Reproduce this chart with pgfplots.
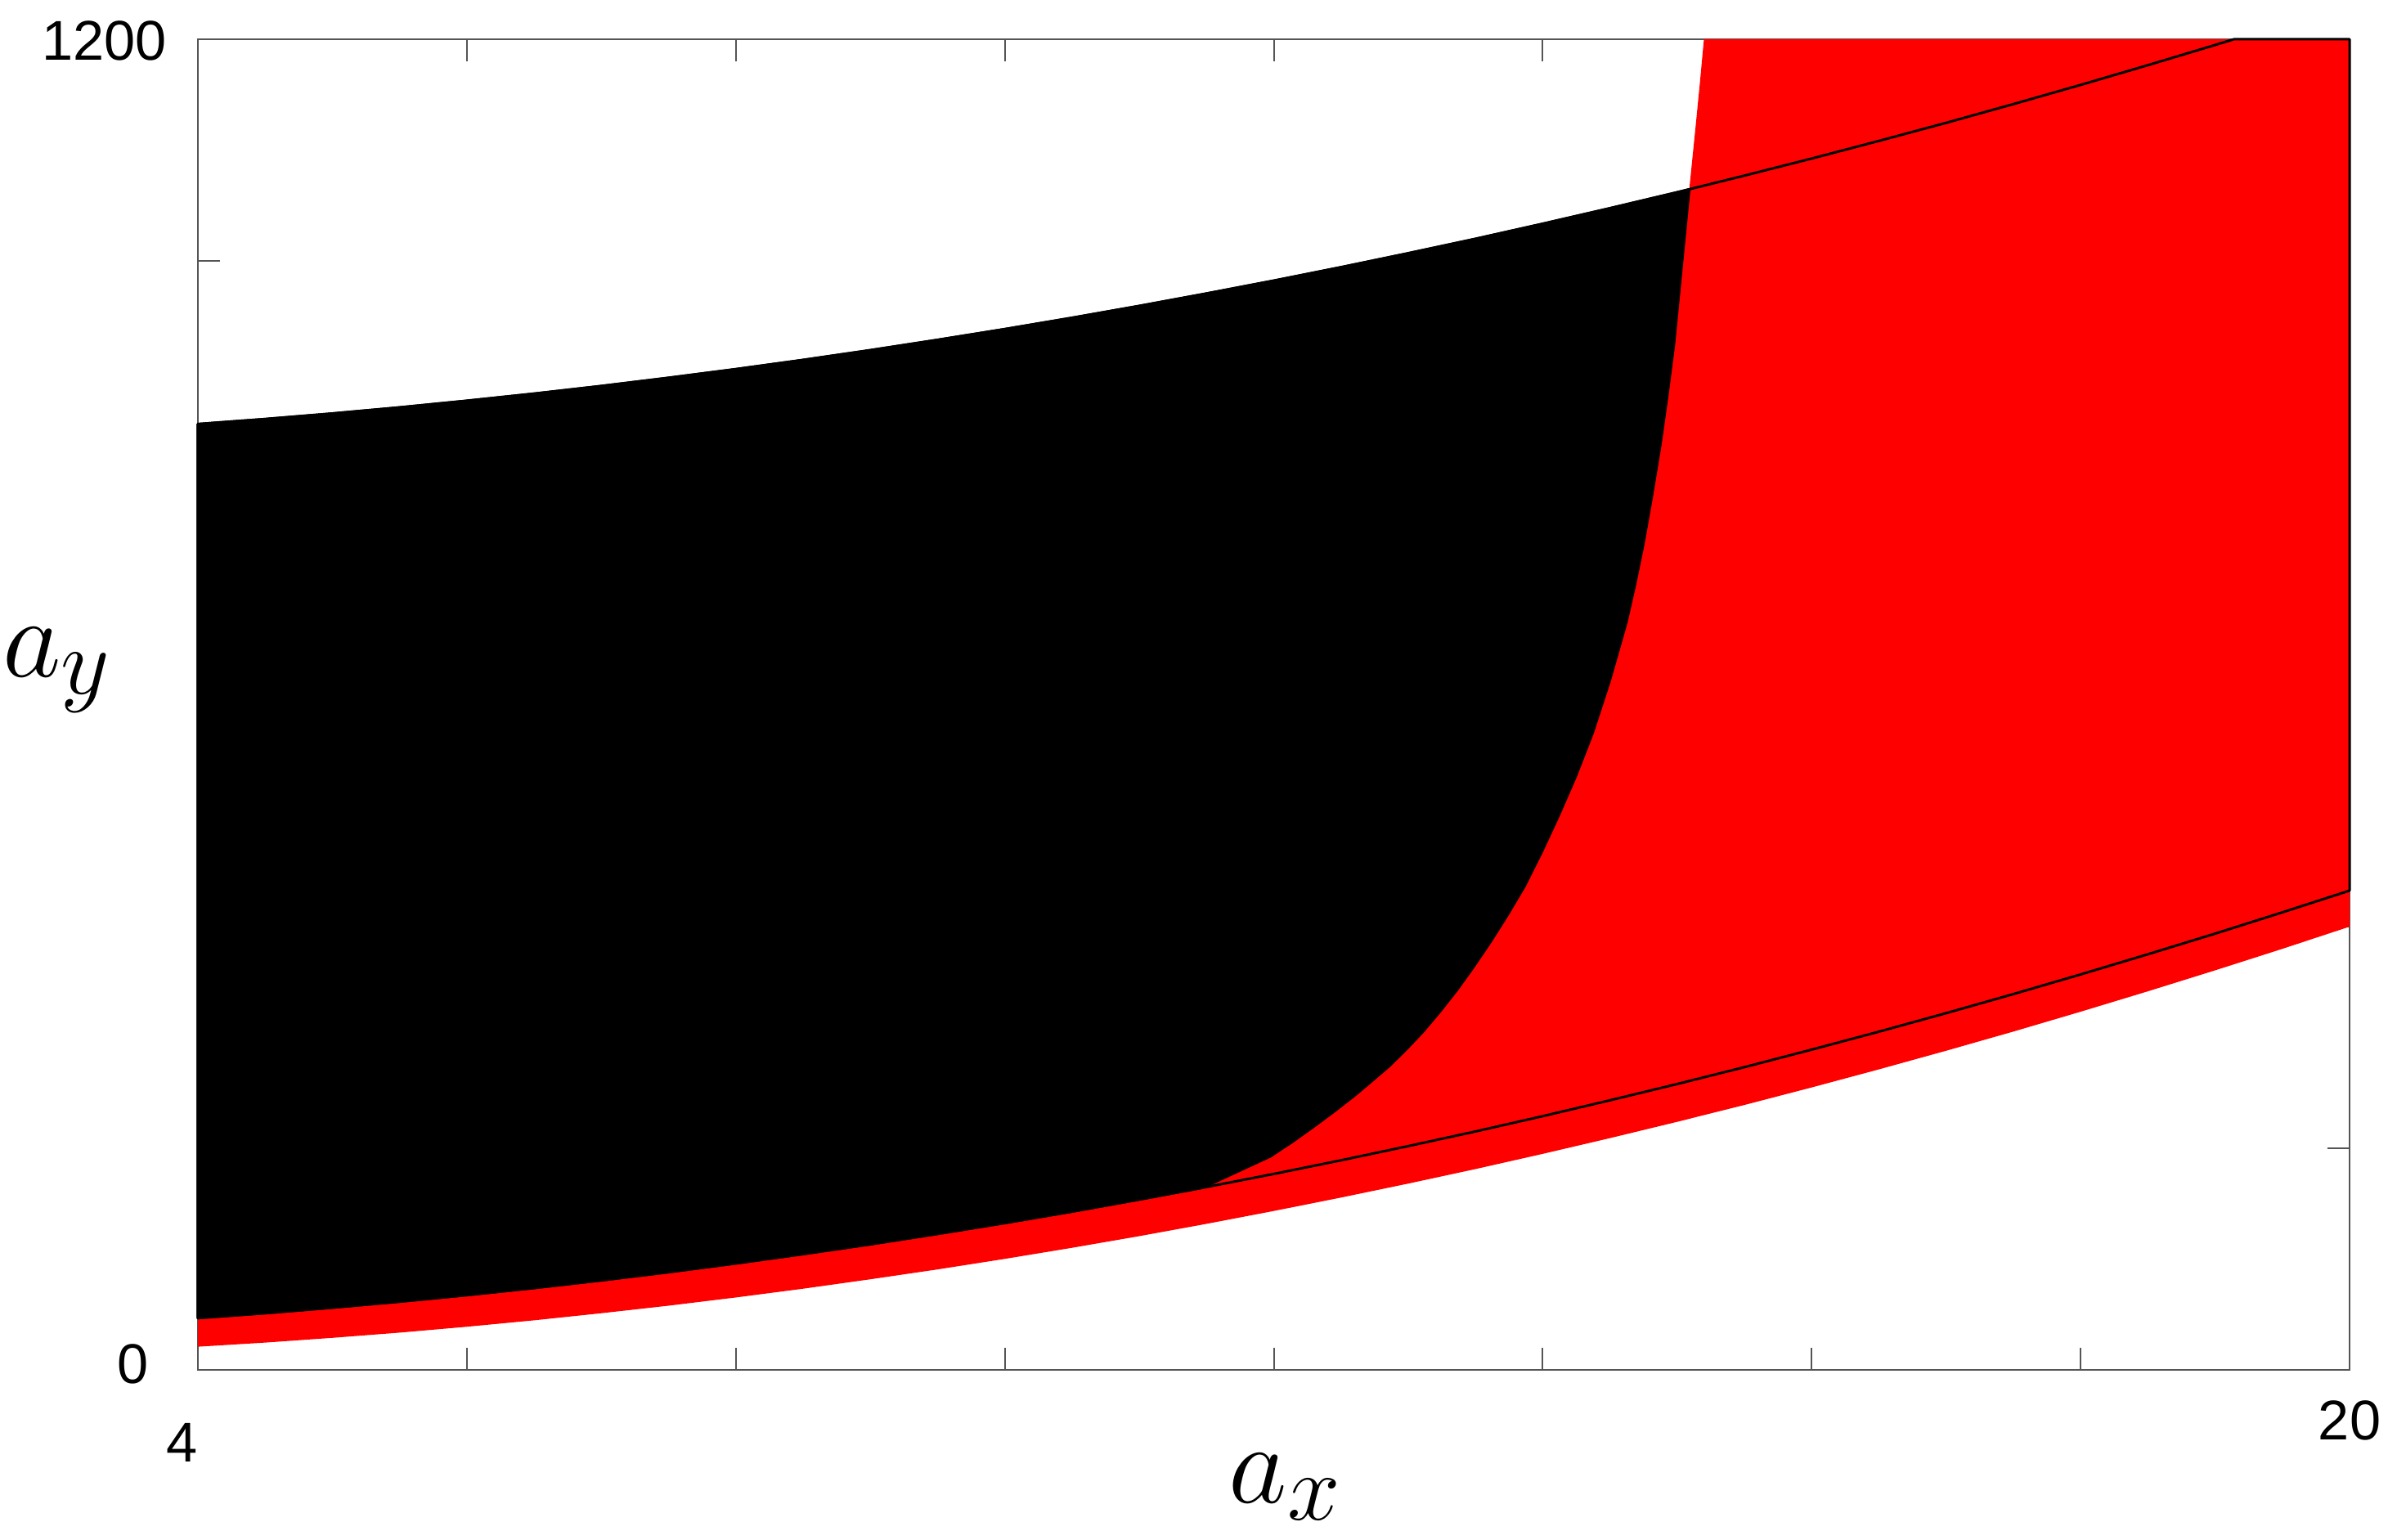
\documentclass[border=0pt]{standalone}
\usepackage{fontspec}
\setmainfont{Liberation Sans}
\usepackage{pgfplots}
\pgfplotsset{compat=1.18}

\definecolor{framegray}{RGB}{85,85,85}

\begin{document}
\begin{tikzpicture}
\begin{axis}[
    name=ax,
    scale only axis,
    width=526.2pt, height=325.4pt,
    xmin=4, xmax=20, ymin=0, ymax=1200,
    clip=false,
    axis line style={framegray, line width=0.4pt},
    tick style={framegray, line width=0.4pt},
    major tick length=5.4pt,
    xtick={4,6,...,20},
    xticklabels={,,,,,,,,20},
    ytick={0,200,...,1200},
    yticklabels={,,,,,,1200},
    tick label style={font=\fontsize{13.7}{16}\selectfont, inner sep=0pt},
    xticklabel style={anchor=center, yshift=-12.4pt},
    yticklabel style={anchor=east, xshift=-7.4pt, yshift=-0.3pt},
    extra x ticks={4}, extra x tick labels={4},
    extra x tick style={xticklabel style={xshift=-3.8pt, yshift=-5.4pt}},
    extra y ticks={0}, extra y tick labels={0},
    extra y tick style={yticklabel style={xshift=-4.4pt, yshift=1.7pt}},
    xlabel={$a_x$}, ylabel={$a_y$},
    label style={font=\fontsize{24.88}{30}\selectfont, scale=1.117, inner sep=0pt},
    xlabel style={at={(axis description cs:0.5055,-0.088)}, anchor=center},
    ylabel style={rotate=-90, at={(axis description cs:-0.0654,0.526)}, anchor=center},
]

%% red region: lower red edge, right edge, steep edge, lower black edge
\addplot[fill=red, draw=none] coordinates {
    (4,20.9)(4.5,24.6)(5,28.9)(5.5,33.6)(6,38.9)(6.5,44.7)(7,51.1)(7.5,57.9)
    (8,65.3)(8.5,73.2)(9,81.7)(9.5,90.6)(10,100.1)(10.5,110.1)(11,120.6)
    (11.5,131.7)(12,143.3)(12.5,155.4)(13,168.0)(13.5,181.1)(14,194.8)
    (14.5,209.0)(15,223.7)(15.5,238.9)(16,254.7)(16.5,271.0)(17,287.8)
    (17.5,305.1)(18,323.0)(18.5,341.4)(19,360.3)(19.5,379.7)(20,399.7)
    (20,1200)(15.199,1200)
    (15.17,1162)(15.14,1124.8)(15.09,1064.7)(15.042,1005.9)(14.976,924.6)
    (14.926,878)(14.876,835.0)(14.812,788)(14.749,745.0)(14.686,708)
    (14.623,674.4)(14.497,621)(14.371,574.2)(14.245,535)(14.119,500.0)
    (13.993,467.2)(13.867,436.6)(13.741,410.8)(13.615,386.6)(13.489,364.0)
    (13.363,342.7)(13.237,323.3)(13.111,305.2)(12.985,289.0)(12.858,273.9)
    (12.73,260.6)(12.607,248.0)(12.455,233.6)(12.304,220.0)(12.14,205.8)
    (11.976,192.6)(11.72,178.2)(11.47,164.2)
    (11,153.6)(10.5,142.7)(10,132.4)(9.5,122.6)(9,113.2)(8.5,104.4)(8,96.0)
    (7.5,88.1)(7,80.7)(6.5,73.8)(6,67.4)(5.5,61.5)(5,56.1)(4.5,51.1)(4,46.7)
} --cycle;

%% black region: lower black edge, steep edge, upper black edge
\addplot[fill=black, draw=black, line width=0.6pt, line join=round] coordinates {
    (4,46.7)(4.5,51.1)(5,56.1)(5.5,61.5)(6,67.4)(6.5,73.8)(7,80.7)(7.5,88.1)
    (8,96.0)(8.5,104.4)(9,113.2)(9.5,122.6)(10,132.4)(10.5,142.7)(11,153.6)
    (11.47,164.2)(11.72,178.2)(11.976,192.6)(12.14,205.8)(12.304,220.0)
    (12.455,233.6)(12.607,248.0)(12.73,260.6)(12.858,273.9)(12.985,289.0)
    (13.111,305.2)(13.237,323.3)(13.363,342.7)(13.489,364.0)(13.615,386.6)
    (13.741,410.8)(13.867,436.6)(13.993,467.2)(14.119,500.0)(14.245,535)
    (14.371,574.2)(14.497,621)(14.623,674.4)(14.686,708)(14.749,745.0)
    (14.812,788)(14.876,835.0)(14.926,878)(14.976,924.6)(15.042,1005.9)
    (15.09,1064.7)
    (15,1062.0)(14.5,1047.6)(14,1033.6)(13.5,1020.0)(13,1007.0)(12.5,994.4)
    (12,982.3)(11.5,970.7)(11,959.5)(10.5,948.8)(10,938.6)(9.5,928.9)
    (9,919.6)(8.5,910.8)(8,902.5)(7.5,894.7)(7,887.3)(6.5,880.4)(6,874.0)
    (5.5,868.0)(5,862.5)(4.5,857.5)(4,853.0)
} --cycle;

%% outline of the black region
\addplot[draw=black, line width=0.6pt, line join=round] coordinates {
    (4,46.7)(4.5,51.1)(5,56.1)(5.5,61.5)(6,67.4)(6.5,73.8)(7,80.7)(7.5,88.1)
    (8,96.0)(8.5,104.4)(9,113.2)(9.5,122.6)(10,132.4)(10.5,142.7)(11,153.6)
    (11.5,164.9)(12,176.7)(12.5,189.0)(13,201.8)(13.5,215.0)(14,228.8)
    (14.5,243.1)(15,257.8)(15.5,273.0)(16,288.8)(16.5,305.0)(17,321.7)
    (17.5,338.9)(18,356.6)(18.5,374.8)(19,393.4)(19.5,412.6)(20,432.2)
    (20,1200)(19.14,1200)
    (19,1194.8)(18.5,1176.6)(18,1158.8)(17.5,1141.5)(17,1124.6)(16.5,1108.3)
    (16,1092.4)(15.5,1077.0)(15,1062.0)(14.5,1047.6)(14,1033.6)(13.5,1020.0)
    (13,1007.0)(12.5,994.4)(12,982.3)(11.5,970.7)(11,959.5)(10.5,948.8)
    (10,938.6)(9.5,928.9)(9,919.6)(8.5,910.8)(8,902.5)(7.5,894.7)(7,887.3)
    (6.5,880.4)(6,874.0)(5.5,868.0)(5,862.5)(4.5,857.5)(4,853.0)
} --cycle;

\end{axis}
\path[use as bounding box] ([shift={(-48.4pt,-41.6pt)}]ax.south west)
    rectangle ([shift={(9.4pt,9.6pt)}]ax.north east);
\end{tikzpicture}
\end{document}
